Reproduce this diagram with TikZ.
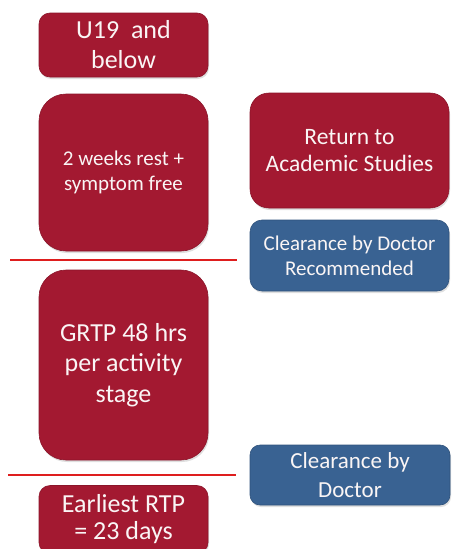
\documentclass[tikz,border=0pt]{standalone}
\usepackage{fontspec}
\setmainfont{Carlito}
\usetikzlibrary{shadows}
\definecolor{boxred}{RGB}{163,25,49}
\definecolor{boxblue}{RGB}{57,98,146}
\definecolor{sepred}{RGB}{222,30,30}
\definecolor{txtwhite}{RGB}{250,245,245}
\tikzset{
  box/.style={rectangle, inner sep=0pt, align=center, text=txtwhite,
    drop shadow={shadow xshift=1pt, shadow yshift=-2pt, opacity=0.25}},
  redbox/.style={box, fill=boxred, draw=boxred!85!black, line width=0.6pt},
  bluebox/.style={box, fill=boxblue, draw=boxblue!85!black, line width=0.6pt},
  sepline/.style={draw=sepred, line width=2pt},
}
\begin{document}
\begin{tikzpicture}[x=1pt,y=-1pt]
\clip (0,0) rectangle (452,549);
\useasboundingbox (0,0) rectangle (452,549);
\node[redbox, minimum width=169pt, minimum height=64pt, rounded corners=11pt,
  font=\fontsize{26}{30}\selectfont] (u19) at (123.5,45) {U19~~and\\below};
\node[redbox, minimum width=169pt, minimum height=157pt, rounded corners=27pt,
  font=\fontsize{21}{25}\selectfont] (rest) at (123.5,172.5) {2 weeks rest +\\symptom free};
\node[redbox, minimum width=169pt, minimum height=190pt, rounded corners=27pt,
  font=\fontsize{26}{30.5}\selectfont] (grtp) at (123.5,365) {GRTP 48 hrs\\per activity\\stage};
\node[redbox, minimum width=169pt, minimum height=68pt, rounded corners=11pt,
  font=\fontsize{26}{27}\selectfont] (rtp) at (123.5,519.5) {Earliest RTP\\= 23 days};
\node[redbox, minimum width=199pt, minimum height=115pt, rounded corners=19pt,
  font=\fontsize{23.5}{27}\selectfont] (acad) at (349.5,150.5) {Return to\\Academic Studies};
\node[bluebox, minimum width=199pt, minimum height=71pt, rounded corners=12pt,
  font=\fontsize{21}{25}\selectfont] (clr1) at (349.5,255.5) {Clearance by Doctor\\Recommended};
\node[bluebox, minimum width=200pt, minimum height=60pt, rounded corners=10pt,
  font=\fontsize{23}{29}\selectfont] (clr2) at (350,475) {Clearance by\\Doctor};
\coordinate (s1a) at (10,260);
\coordinate (s1b) at (237,260);
\coordinate (s2a) at (8,475);
\coordinate (s2b) at (236,475);
\draw[sepline] (s1a) -- (s1b);
\draw[sepline] (s2a) -- (s2b);
\end{tikzpicture}
\end{document}
